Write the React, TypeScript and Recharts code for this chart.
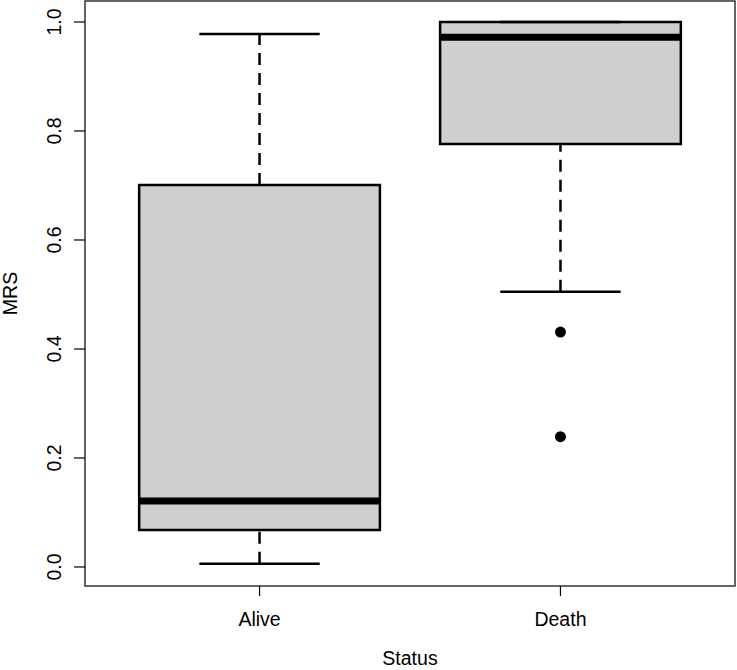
import React from 'react';
import {
  ScatterChart,
  Scatter,
  XAxis,
  YAxis,
  ReferenceArea,
  ReferenceLine,
} from 'recharts';

// ---- data ----
const categories = ['Alive', 'Death'];
const positions = [1, 2];
const whiskerLow = [0.006, 0.505];
const q1 = [0.068, 0.776];
const median = [0.121, 0.972];
const q3 = [0.701, 1.0];
const whiskerHigh = [0.978, 1.0];
const outlierGroup = [2, 2];
const outlierValues = [0.431, 0.239];
const yTicks = [0, 0.2, 0.4, 0.6, 0.8, 1.0];

const X_DOMAIN: [number, number] = [0.42, 2.58];
const Y_DOMAIN: [number, number] = [-0.0349, 1.0385];
const BOX_HALF = 0.4;
const CAP_HALF = 0.2;
const FONT = '"Liberation Sans", Arial, sans-serif';
const FS = 19.5;

const outlierData = outlierValues.map((v, i) => ({ x: outlierGroup[i], y: v }));

const YTick = (props: any) => {
  const { x, y, payload } = props;
  return (
    <text
      x={x}
      y={y}
      transform={`rotate(-90, ${x}, ${y})`}
      textAnchor="middle"
      fontFamily={FONT}
      fontSize={FS}
      fill="#000"
    >
      {Number(payload.value).toFixed(1)}
    </text>
  );
};

const XTick = (props: any) => {
  const { x, y, payload } = props;
  const idx = positions.indexOf(payload.value);
  return (
    <text x={x} y={y} textAnchor="middle" fontFamily={FONT} fontSize={FS} fill="#000">
      {idx >= 0 ? categories[idx] : ''}
    </text>
  );
};

export default function App() {
  return (
    <div style={{ position: 'absolute', left: 0, top: 0, width: 737, height: 670, background: '#fff' }}>
      <ScatterChart width={737} height={670} margin={{ top: 1, right: 2, bottom: 0, left: 0 }}>
        <XAxis
          type="number"
          dataKey="x"
          domain={X_DOMAIN}
          ticks={positions}
          allowDataOverflow
          axisLine={false}
          tickLine={{ stroke: '#000', strokeWidth: 1.2 }}
          tickSize={10}
          tickMargin={30}
          height={84}
          tick={<XTick />}
          label={{
            content: (p: any) => {
              const vb = p.viewBox || {};
              return (
                <text
                  x={vb.x + vb.width / 2}
                  y={vb.y + 79}
                  textAnchor="middle"
                  fontFamily={FONT}
                  fontSize={FS}
                  fill="#000"
                >
                  Status
                </text>
              );
            },
          }}
        />
        <YAxis
          type="number"
          dataKey="y"
          domain={Y_DOMAIN}
          ticks={yTicks}
          allowDataOverflow
          axisLine={false}
          tickLine={{ stroke: '#000', strokeWidth: 1.2 }}
          tickSize={11}
          tickMargin={13}
          width={85}
          tick={<YTick />}
          label={{
            content: (p: any) => {
              const vb = p.viewBox || {};
              const cx = vb.x + 17;
              const cy = vb.y + vb.height / 2;
              return (
                <text
                  x={cx}
                  y={cy}
                  transform={`rotate(-90, ${cx}, ${cy})`}
                  textAnchor="middle"
                  fontFamily={FONT}
                  fontSize={FS}
                  fill="#000"
                >
                  MRS
                </text>
              );
            },
          }}
        />

        {/* whiskers (dashed) */}
        {positions.map((c, i) => (
          <ReferenceLine
            key={`wl-${i}`}
            segment={[{ x: c, y: whiskerLow[i] }, { x: c, y: q1[i] }]}
            stroke="#000"
            strokeWidth={2.5}
            strokeDasharray="12 8"
            ifOverflow="visible"
          />
        ))}
        {positions.map((c, i) => (
          <ReferenceLine
            key={`wh-${i}`}
            segment={[{ x: c, y: q3[i] }, { x: c, y: whiskerHigh[i] }]}
            stroke="#000"
            strokeWidth={2.5}
            strokeDasharray="12 8"
            ifOverflow="visible"
          />
        ))}
        {/* caps */}
        {positions.map((c, i) => (
          <ReferenceLine
            key={`cl-${i}`}
            segment={[{ x: c - CAP_HALF, y: whiskerLow[i] }, { x: c + CAP_HALF, y: whiskerLow[i] }]}
            stroke="#000"
            strokeWidth={2.5}
            ifOverflow="visible"
          />
        ))}
        {positions.map((c, i) => (
          <ReferenceLine
            key={`ch-${i}`}
            segment={[{ x: c - CAP_HALF, y: whiskerHigh[i] }, { x: c + CAP_HALF, y: whiskerHigh[i] }]}
            stroke="#000"
            strokeWidth={2.5}
            ifOverflow="visible"
          />
        ))}
        {/* boxes */}
        {positions.map((c, i) => (
          <ReferenceArea
            key={`box-${i}`}
            x1={c - BOX_HALF}
            x2={c + BOX_HALF}
            y1={q1[i]}
            y2={q3[i]}
            fill="#cfcfcf"
            fillOpacity={1}
            stroke="#000"
            strokeWidth={2.5}
            ifOverflow="visible"
          />
        ))}
        {/* medians */}
        {positions.map((c, i) => (
          <ReferenceLine
            key={`med-${i}`}
            segment={[{ x: c - BOX_HALF, y: median[i] }, { x: c + BOX_HALF, y: median[i] }]}
            stroke="#000"
            strokeWidth={7}
            ifOverflow="visible"
          />
        ))}
        {/* frame */}
        <ReferenceArea
          x1={X_DOMAIN[0]}
          x2={X_DOMAIN[1]}
          y1={Y_DOMAIN[0]}
          y2={Y_DOMAIN[1]}
          fill="none"
          stroke="#333"
          strokeWidth={1.5}
          ifOverflow="visible"
        />
        <Scatter
          data={outlierData}
          isAnimationActive={false}
          fill="#000"
          shape={(p: any) => <circle cx={p.cx} cy={p.cy} r={5.5} fill="#000" />}
        />
      </ScatterChart>
    </div>
  );
}
